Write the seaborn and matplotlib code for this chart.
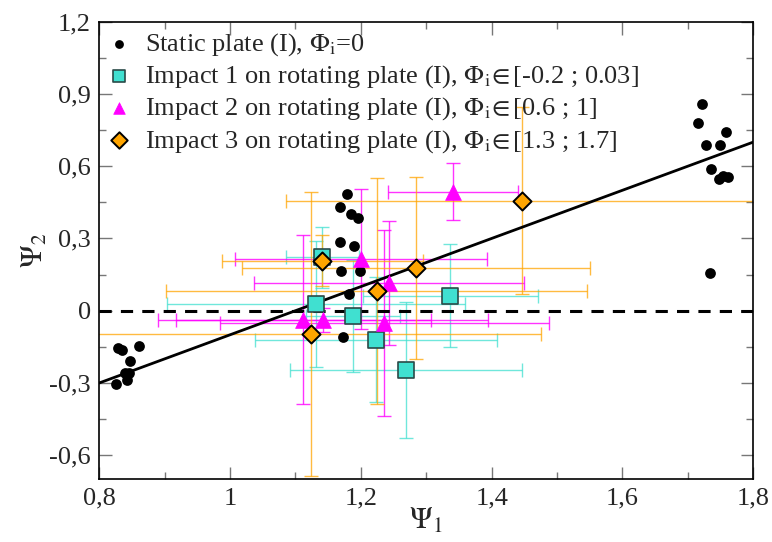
import numpy as np
import matplotlib
matplotlib.use("Agg")
import matplotlib.pyplot as plt
import seaborn as sns

# static plate points (psi1, psi2)
static_x = [0.829, 0.835, 0.860, 0.847, 0.839, 0.845, 0.842, 0.825,
            1.179, 1.168, 1.185, 1.196, 1.168, 1.189, 1.169, 1.199, 1.182, 1.173,
            1.722, 1.715, 1.759, 1.728, 1.749, 1.735, 1.747, 1.754, 1.761, 1.734]
static_y = [-0.153, -0.164, -0.145, -0.207, -0.260, -0.260, -0.287, -0.305,
            0.484, 0.432, 0.403, 0.386, 0.286, 0.269, 0.166, 0.163, 0.070, -0.110,
            0.860, 0.781, 0.742, 0.688, 0.688, 0.587, 0.547, 0.559, 0.555, 0.158]

# impact 1
imp1_x = [1.141, 1.131, 1.188, 1.223, 1.337, 1.269]
imp1_y = [0.222, 0.027, -0.022, -0.121, 0.063, -0.246]
imp1_xerr = [0.056, 0.228, 0.072, 0.185, 0.134, 0.177]
imp1_yerr = [0.127, 0.262, 0.231, 0.260, 0.215, 0.283]

# impact 2
imp2_x = [1.200, 1.341, 1.243, 1.112, 1.142, 1.236]
imp2_y = [0.215, 0.494, 0.114, -0.038, -0.038, -0.052]
imp2_xerr = [0.193, 0.099, 0.206, 0.195, 0.252, 0.251]
imp2_yerr = [0.290, 0.118, 0.258, 0.351, 0.050, 0.386]

# impact 3
imp3_x = [1.141, 1.285, 1.224, 1.123, 1.447]
imp3_y = [0.208, 0.176, 0.082, -0.096, 0.457]
imp3_xerr = [0.154, 0.266, 0.322, 0.352, 0.362]
imp3_yerr = [0.105, 0.378, 0.470, 0.590, 0.387]

# linear fit  psi2 = psi1 - 1.1
fit_x = [0.8, 1.8]
fit_y = [-0.3, 0.7]

xticks = [0.8, 1.0, 1.2, 1.4, 1.6, 1.8]
xtick_labels = ["0,8", "1", "1,2", "1,4", "1,6", "1,8"]
yticks = [-0.6, -0.3, 0.0, 0.3, 0.6, 0.9, 1.2]
ytick_labels = ["-0,6", "-0,3", "0", "0,3", "0,6", "0,9", "1,2"]

labels = [
    r"Static plate (I), $\Phi_{\mathrm{i}}$=0",
    r"Impact 1 on rotating plate (I), $\Phi_{\mathrm{i}}\!\in$[-0.2 ; 0.03]",
    r"Impact 2 on rotating plate (I), $\Phi_{\mathrm{i}}\!\in$[0.6 ; 1]",
    r"Impact 3 on rotating plate (I), $\Phi_{\mathrm{i}}\!\in$[1.3 ; 1.7]",
]

TURQ = "#40E0D0"
MAG = "#FF00FF"
ORANGE = "#FFA500"

sns.set_style("ticks")
plt.rcParams["font.family"] = ["Liberation Serif", "DejaVu Serif"]
plt.rcParams["mathtext.fontset"] = "stix"

fig = plt.figure(figsize=(7.72, 5.42), dpi=100)
ax = fig.add_axes([0.1286, 0.1157, 0.8471, 0.8443])

# error bars first
eb_kw = dict(fmt="none", capsize=5, elinewidth=1.0, capthick=1.0, zorder=2)
ax.errorbar(imp1_x, imp1_y, xerr=imp1_xerr, yerr=imp1_yerr, ecolor=TURQ, alpha=0.75, **eb_kw)
ax.errorbar(imp2_x, imp2_y, xerr=imp2_xerr, yerr=imp2_yerr, ecolor=MAG, alpha=0.8, **eb_kw)
ax.errorbar(imp3_x, imp3_y, xerr=imp3_xerr, yerr=imp3_yerr, ecolor=ORANGE, alpha=0.75, **eb_kw)

# reference lines
ax.axhline(0, color="black", lw=2.2, ls=(0, (4, 3)), zorder=3)
sns.lineplot(x=fit_x, y=fit_y, color="black", lw=2, ax=ax, zorder=3)

sns.scatterplot(x=static_x, y=static_y, color="black", marker="o", s=60,
                edgecolor="black", linewidth=0, ax=ax, zorder=4, label=labels[0])
sns.scatterplot(x=imp1_x, y=imp1_y, color=TURQ, marker="s", s=120,
                edgecolor="#2a4a48", linewidth=1.2, ax=ax, zorder=5, label=labels[1])
sns.scatterplot(x=imp2_x, y=imp2_y, color=MAG, marker="^", s=130,
                edgecolor=MAG, linewidth=0.5, ax=ax, zorder=5, label=labels[2])
sns.scatterplot(x=imp3_x, y=imp3_y, color=ORANGE, marker="D", s=85,
                edgecolor="black", linewidth=1.4, ax=ax, zorder=6, label=labels[3])

ax.set_xlim(0.8, 1.8)
ax.set_ylim(-0.7, 1.2)
ax.set_xticks(xticks)
ax.set_xticklabels(xtick_labels)
ax.set_yticks(yticks)
ax.set_yticklabels(ytick_labels)
ax.set_xticks(np.arange(0.9, 1.8, 0.2), minor=True)
ax.set_yticks(np.arange(-0.45, 1.2, 0.3), minor=True)
ax.tick_params(which="both", direction="in", top=True, right=True,
               labelsize=19, color="#777777", pad=6)
ax.tick_params(which="major", length=9, width=1)
ax.tick_params(which="minor", length=5, width=1)
for sp in ax.spines.values():
    sp.set_color("black")
    sp.set_linewidth(1.2)

ax.set_xlabel(r"$\Psi_{1}$", fontsize=22, labelpad=-2)
ax.set_ylabel(r"$\Psi_{2}$", fontsize=22, labelpad=0)

leg = ax.legend(loc="upper left", frameon=False, fontsize=19, handletextpad=0.5,
                handlelength=1.0, borderaxespad=0.0, labelspacing=0.2,
                bbox_to_anchor=(-0.006, 1.002))
for h in leg.legend_handles:
    h.set_sizes([70])
leg.legend_handles[0].set_sizes([40])

fig.savefig("out.png", dpi=100)
